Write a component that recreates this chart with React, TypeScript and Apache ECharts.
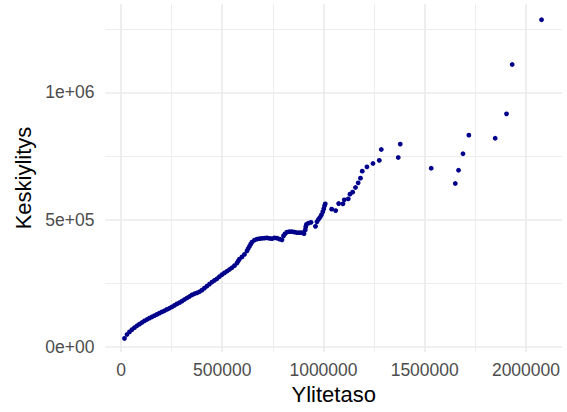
import React, { useEffect, useRef } from "react";
import * as echarts from "echarts";

// Threshold (Ylitetaso) values
const thresholdValues = [
  17300, 29600, 42000, 54300, 66700, 79000, 91400, 103700, 116000, 128400,
  140700, 153100, 165400, 177800, 190100, 202500, 214800, 227100, 239500, 251800,
  264200, 276500, 288900, 301200, 313600, 325900, 338300, 350600, 362900, 375300,
  387600, 400000, 412300, 424700, 437000, 449400, 461700, 474000, 486400, 498700,
  511100, 523400, 535800, 548100, 560500, 572800, 578700, 585200, 597500, 609800,
  622200, 628100, 634500, 640500, 646900, 659200, 671600, 683900, 696300, 708600,
  721000, 733300, 745600, 758000, 770300, 782700, 795000, 802400, 809800, 819700,
  832100, 844400, 856700, 869100, 881400, 893800, 903700, 910100, 912500, 916000,
  925900, 938200, 960400, 967800, 975300, 982700, 990100, 996500, 1001400, 1005400,
  1008800, 1040400, 1060200, 1075000, 1096200, 1102700, 1122400, 1130800, 1144100, 1158000,
  1171300, 1182700, 1191500, 1214700, 1244400, 1275500, 1285400, 1369300, 1379200, 1532000,
  1651000, 1667000, 1689000, 1718000, 1848000, 1904000, 1932000, 2077000,
];

// Mean excess (Keskiylitys) values
const meanExcessValues = [
  32300, 48000, 57900, 67300, 74800, 82300, 88600, 94900, 101200, 106700,
  112200, 116900, 122000, 126800, 131900, 136600, 141300, 146500, 151200, 156300,
  162200, 168100, 173200, 179100, 185400, 191300, 197200, 203500, 208300, 211400,
  216100, 222400, 230300, 238200, 246100, 253900, 260600, 267300, 275600, 283100,
  290200, 296500, 303500, 310600, 318500, 328700, 336600, 344500, 353100, 363000,
  376800, 385800, 394500, 403100, 411000, 419300, 422800, 424800, 426000, 427200,
  428000, 426000, 424800, 428000, 426800, 422800, 420100, 435800, 443700, 450800,
  452400, 452400, 450800, 448400, 448800, 448400, 444500, 459400, 471300, 481100,
  486200, 489000, 473200, 490900, 500800, 508700, 518500, 530300, 542100, 553900,
  561800, 540900, 535400, 563000, 561800, 577600, 581500, 600000, 607900, 626000,
  644500, 663000, 690500, 707500, 720500, 733100, 775600, 744100, 796800, 702000,
  642000, 694000, 759000, 832000, 820000, 916000, 1110000, 1286000,
];

const xMajorTicks = [0, 500000, 1000000, 1500000, 2000000];
const xTickLabels = ["0", "500000", "1000000", "1500000", "2000000"];
const xMinorTicks = [250000, 750000, 1250000, 1750000];
const yMajorTicks = [0, 500000, 1000000];
const yTickLabels = ["0e+00", "5e+05", "1e+06"];
const yMinorTicks = [250000, 750000, 1250000];

const xTitle = "Ylitetaso";
const yTitle = "Keskiylitys";

export default function App() {
  const ref = useRef<HTMLDivElement>(null);

  useEffect(() => {
    if (!ref.current) return;
    const chart = echarts.init(ref.current, undefined, { renderer: "svg" });
    const points = thresholdValues.map((x, i) => [x, meanExcessValues[i]]);
    const gridColor = "#EBEBEB";
    const majorW = 1.7;
    const minorW = 0.9;
    const gridLines: any[] = [
      ...xMinorTicks.map((v) => ({ xAxis: v, lineStyle: { width: minorW, color: gridColor, type: "solid" } })),
      ...yMinorTicks.map((v) => ({ yAxis: v, lineStyle: { width: minorW, color: gridColor, type: "solid" } })),
      ...xMajorTicks.map((v) => ({ xAxis: v, lineStyle: { width: majorW, color: gridColor, type: "solid" } })),
      ...yMajorTicks.map((v) => ({ yAxis: v, lineStyle: { width: majorW, color: gridColor, type: "solid" } })),
    ];
    const font = "'Liberation Sans', Arial, Helvetica, sans-serif";

    chart.setOption({
      animation: false,
      backgroundColor: "#FFFFFF",
      textStyle: { fontFamily: font },
      grid: {
        left: 105.4,
        right: 5,
        top: 4,
        bottom: 60,
        containLabel: false,
        outerBoundsMode: "none",
      },
      xAxis: {
        type: "value",
        min: -77000,
        max: 2178000,
        axisLine: { show: false },
        axisTick: { show: false },
        splitLine: { show: false },
        axisLabel: {
          customValues: xMajorTicks,
          formatter: (v: number) => {
            const i = xMajorTicks.indexOf(v);
            return i >= 0 ? xTickLabels[i] : "";
          },
          color: "#4D4D4D",
          fontSize: 17.5,
          fontFamily: font,
          margin: 9,
        },
        name: xTitle,
        nameLocation: "middle",
        nameGap: 31,
        nameTextStyle: { color: "#000000", fontSize: 22, fontFamily: font },
      },
      yAxis: {
        type: "value",
        min: -21000,
        max: 1348000,
        axisLine: { show: false },
        axisTick: { show: false },
        splitLine: { show: false },
        axisLabel: {
          customValues: yMajorTicks,
          formatter: (v: number) => {
            const i = yMajorTicks.indexOf(v);
            return i >= 0 ? yTickLabels[i] : "";
          },
          color: "#4D4D4D",
          fontSize: 17.5,
          fontFamily: font,
          margin: 11,
        },
        name: yTitle,
        nameLocation: "middle",
        nameGap: 66,
        nameRotate: 90,
        nameTextStyle: { color: "#000000", fontSize: 22, fontFamily: font },
      },
      series: [
        {
          type: "scatter",
          data: [],
          z: 1,
          zlevel: 0,
          silent: true,
          markLine: {
            z: 1,
            silent: true,
            animation: false,
            symbol: ["none", "none"],
            label: { show: false },
            emphasis: { disabled: true },
            data: gridLines,
          },
        },
        {
          type: "scatter",
          data: points,
          z: 10,
          zlevel: 0,
          symbol: "circle",
          symbolSize: 4.8,
          itemStyle: { color: "#00008B", opacity: 1 },
          emphasis: { disabled: true },
          silent: true,
        },
      ],
    });

    return () => {
      chart.dispose();
    };
  }, []);

  return (
    <div
      ref={ref}
      style={{ position: "fixed", left: 0, top: 0, width: 567, height: 412 }}
    />
  );
}
